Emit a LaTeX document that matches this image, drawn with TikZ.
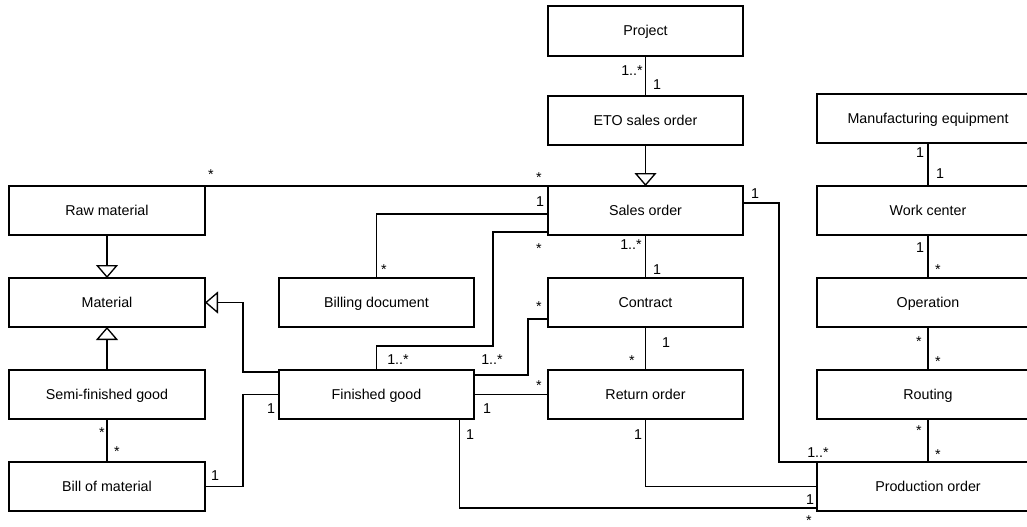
\documentclass[tikz,border=0pt]{standalone}
\usepackage{fontspec}
\setmainfont{Liberation Sans}
\usetikzlibrary{arrows.meta,calc}

\begin{document}
\begin{tikzpicture}[
    x=0.75pt, y=-0.75pt,
    font=\fontsize{10.7pt}{13pt}\selectfont,
    line width=1pt,
    cls/.style={draw, fill=white, inner sep=0pt, outer sep=0pt,
      minimum width=146.25pt, minimum height=36.75pt,
      text height=0.716em, text depth=0pt},
    lcls/.style={cls, minimum width=147pt},
    rcls/.style={cls, minimum width=166.5pt},
    assoc/.style={draw},
    gen/.style={draw, -{Triangle[open, length=9.75pt, width=16.5pt]}},
    mult/.style={inner sep=0pt, anchor=base}
  ]
  % canvas
  \useasboundingbox (0,0) rectangle (1027,526);
  \fill[white] (0,0) rectangle (1027,526);
  \clip (0,0) rectangle (1027,526);

  % classes: order column
  \node[cls, minimum height=37.5pt] (proj) at (645.5,31) {Project};
  \node[cls] (eto)  at (645.5,120.5) {ETO sales order};
  \node[cls] (so)   at (645.5,210.5) {Sales order};
  \node[cls] (con)  at (645.5,302.5) {Contract};
  \node[cls] (ret)  at (645.5,394.5) {Return order};

  % classes: material column
  \node[lcls] (raw)  at (107,210.5) {Raw material};
  \node[lcls] (mat)  at (107,302.5) {Material};
  \node[lcls] (semi) at (107,394.5) {Semi-finished good};
  \node[lcls] (bom)  at (107,486.5) {Bill of material};

  % classes: middle column
  \node[cls] (bill) at (376.5,302.5) {Billing document};
  \node[cls] (fin)  at (376.5,394.5) {Finished good};

  % classes: manufacturing column
  \node[rcls] (meq)  at (928,118.5) {Manufacturing equipment};
  \node[rcls] (wc)   at (928,210.5) {Work center};
  \node[rcls] (op)   at (928,302.5) {Operation};
  \node[rcls] (rout) at (928,394.5) {Routing};
  \node[rcls] (prod) at (928,486.5) {Production order};

  % generalizations
  \draw[gen] (eto.south) -- (so.north);
  \draw[gen] (raw.south) -- (mat.north);
  \draw[gen] (semi.north) -- (mat.south);
  \draw[gen] ($(fin.north west)+(0,2)$) -- ++(-36,0) |- (mat.east);

  % associations
  \draw[assoc] (proj.south) -- (eto.north);
  \draw[assoc] (raw.north east) -- (so.north west);
  \draw[assoc] ($(so.west)+(0,3.5)$) -| (bill.north);
  \draw[assoc] ($(so.south west)+(0,-3)$) -| ($(fin.north)+(116.5,-24)$) -| (fin.north);
  \draw[assoc] ($(fin.north east)+(0,5)$) -- ++(54,0) |- ($(con.south west)+(0,-8)$);
  \draw[assoc] (fin.east) -- (ret.west);
  \draw[assoc] (so.south) -- (con.north);
  \draw[assoc] (con.south) -- (ret.north);
  \draw[assoc] (fin.west) -- ++(-36,0) |- (bom.east);
  \draw[assoc] (semi.south) -- (bom.north);
  \draw[assoc] ($(so.north east)+(0,17)$) -| ($(prod.north west)+(-38,0)$) -- (prod.north west);
  \draw[assoc] (ret.south) |- (prod.west);
  \draw[assoc] ($(fin.south east)+(-14.5,0)$) |- ($(prod.south west)+(0,-3)$);
  \draw[assoc] (meq.south) -- (wc.north);
  \draw[assoc] (wc.south) -- (op.north);
  \draw[assoc] (op.south) -- (rout.north);
  \draw[assoc] (rout.south) -- (prod.north);

  % multiplicities
  \node[mult] at (632,75) {1..*};
  \node[mult] at (657,89) {1};
  \node[mult] at (211,179) {*};
  \node[mult] at (539,182) {*};
  \node[mult] at (540,206) {1};
  \node[mult] at (384,274) {*};
  \node[mult] at (539,253) {*};
  \node[mult] at (398,364) {1..*};
  \node[mult] at (492,364) {1..*};
  \node[mult] at (539,311) {*};
  \node[mult] at (487,413) {1};
  \node[mult] at (539,390) {*};
  \node[mult] at (631,249) {1..*};
  \node[mult] at (657,274) {1};
  \node[mult] at (666,347) {1};
  \node[mult] at (632,365) {*};
  \node[mult] at (271,413) {1};
  \node[mult] at (215,480) {1};
  \node[mult] at (102,437) {*};
  \node[mult] at (117,456) {*};
  \node[mult] at (755,198) {1};
  \node[mult] at (818,457) {1..*};
  \node[mult] at (638,439) {1};
  \node[mult] at (470,439) {1};
  \node[mult] at (810,504) {1};
  \node[mult] at (809,525) {*};
  \node[mult] at (920,157) {1};
  \node[mult] at (940,178) {1};
  \node[mult] at (920,252) {1};
  \node[mult] at (938,274) {*};
  \node[mult] at (919,346) {*};
  \node[mult] at (938,366) {*};
  \node[mult] at (919,435) {*};
  \node[mult] at (938,459) {*};
\end{tikzpicture}
\end{document}
